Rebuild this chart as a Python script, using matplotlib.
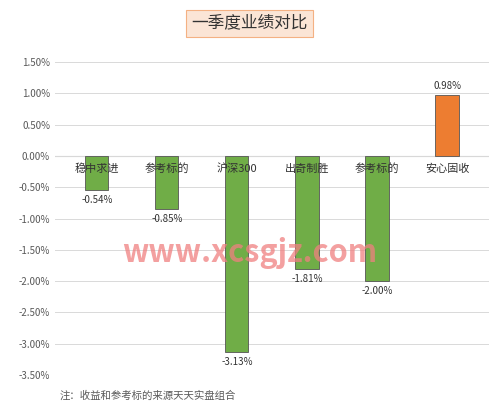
import matplotlib
matplotlib.use('Agg')
import matplotlib.pyplot as plt
from matplotlib.ticker import FuncFormatter

plt.rcParams['font.family'] = ['Noto Sans CJK SC', 'DejaVu Sans']

categories = ['稳中求进', '参考标的', '沪深300', '出奇制胜', '参考标的', '安心固收']
values = [-0.54, -0.85, -3.13, -1.81, -2.00, 0.98]
colors = ['#70AD47'] * 5 + ['#ED7D31']

fig = plt.figure(figsize=(4.99, 4.19), dpi=100)
ax = fig.add_axes([0.11, 0.105, 0.87, 0.747])
x = range(len(categories))
ax.bar(x, values, width=0.33, color=colors, edgecolor='#555555', linewidth=0.6, zorder=2)
ax.set_ylim(-3.5, 1.5)
ax.set_xlim(-0.6, 5.6)
ax.set_yticks([i * 0.5 for i in range(-7, 4)])
ax.yaxis.set_major_formatter(FuncFormatter(lambda v, p: f'{v:.2f}%'))
ax.tick_params(axis='y', labelsize=7, colors='#595959', length=0)
ax.set_xticks([])
ax.grid(axis='y', color='#D9D9D9', linewidth=0.7, zorder=0)
for s in ax.spines.values():
    s.set_visible(False)
ax.axhline(0, color='#BFBFBF', linewidth=0.8, zorder=1)

for i, (c, v) in enumerate(zip(categories, values)):
    ax.text(i, -0.12, c, ha='center', va='top', fontsize=8, color='#333333', zorder=3)
    if v < 0:
        ax.text(i, v - 0.08, f'{v:.2f}%', ha='center', va='top', fontsize=7, color='#333333')
    else:
        ax.text(i, v + 0.05, f'{v:.2f}%', ha='center', va='bottom', fontsize=7, color='#333333')

fig.text(0.5, 0.945, '一季度业绩对比', ha='center', va='center', fontsize=12, color='#333333',
         bbox=dict(boxstyle='square,pad=0.3', facecolor='#FBE5D6', edgecolor='#F4B183', linewidth=0.8))
fig.text(0.5, 0.395, 'www.xcsgjz.com', ha='center', va='center', fontsize=22,
         color='#F08080', alpha=0.75, fontweight='bold', zorder=5)
fig.text(0.12, 0.055, '注：收益和参考标的来源天天实盘组合', ha='left', va='center', fontsize=7.5, color='#595959')

fig.savefig('out.png', dpi=100)
